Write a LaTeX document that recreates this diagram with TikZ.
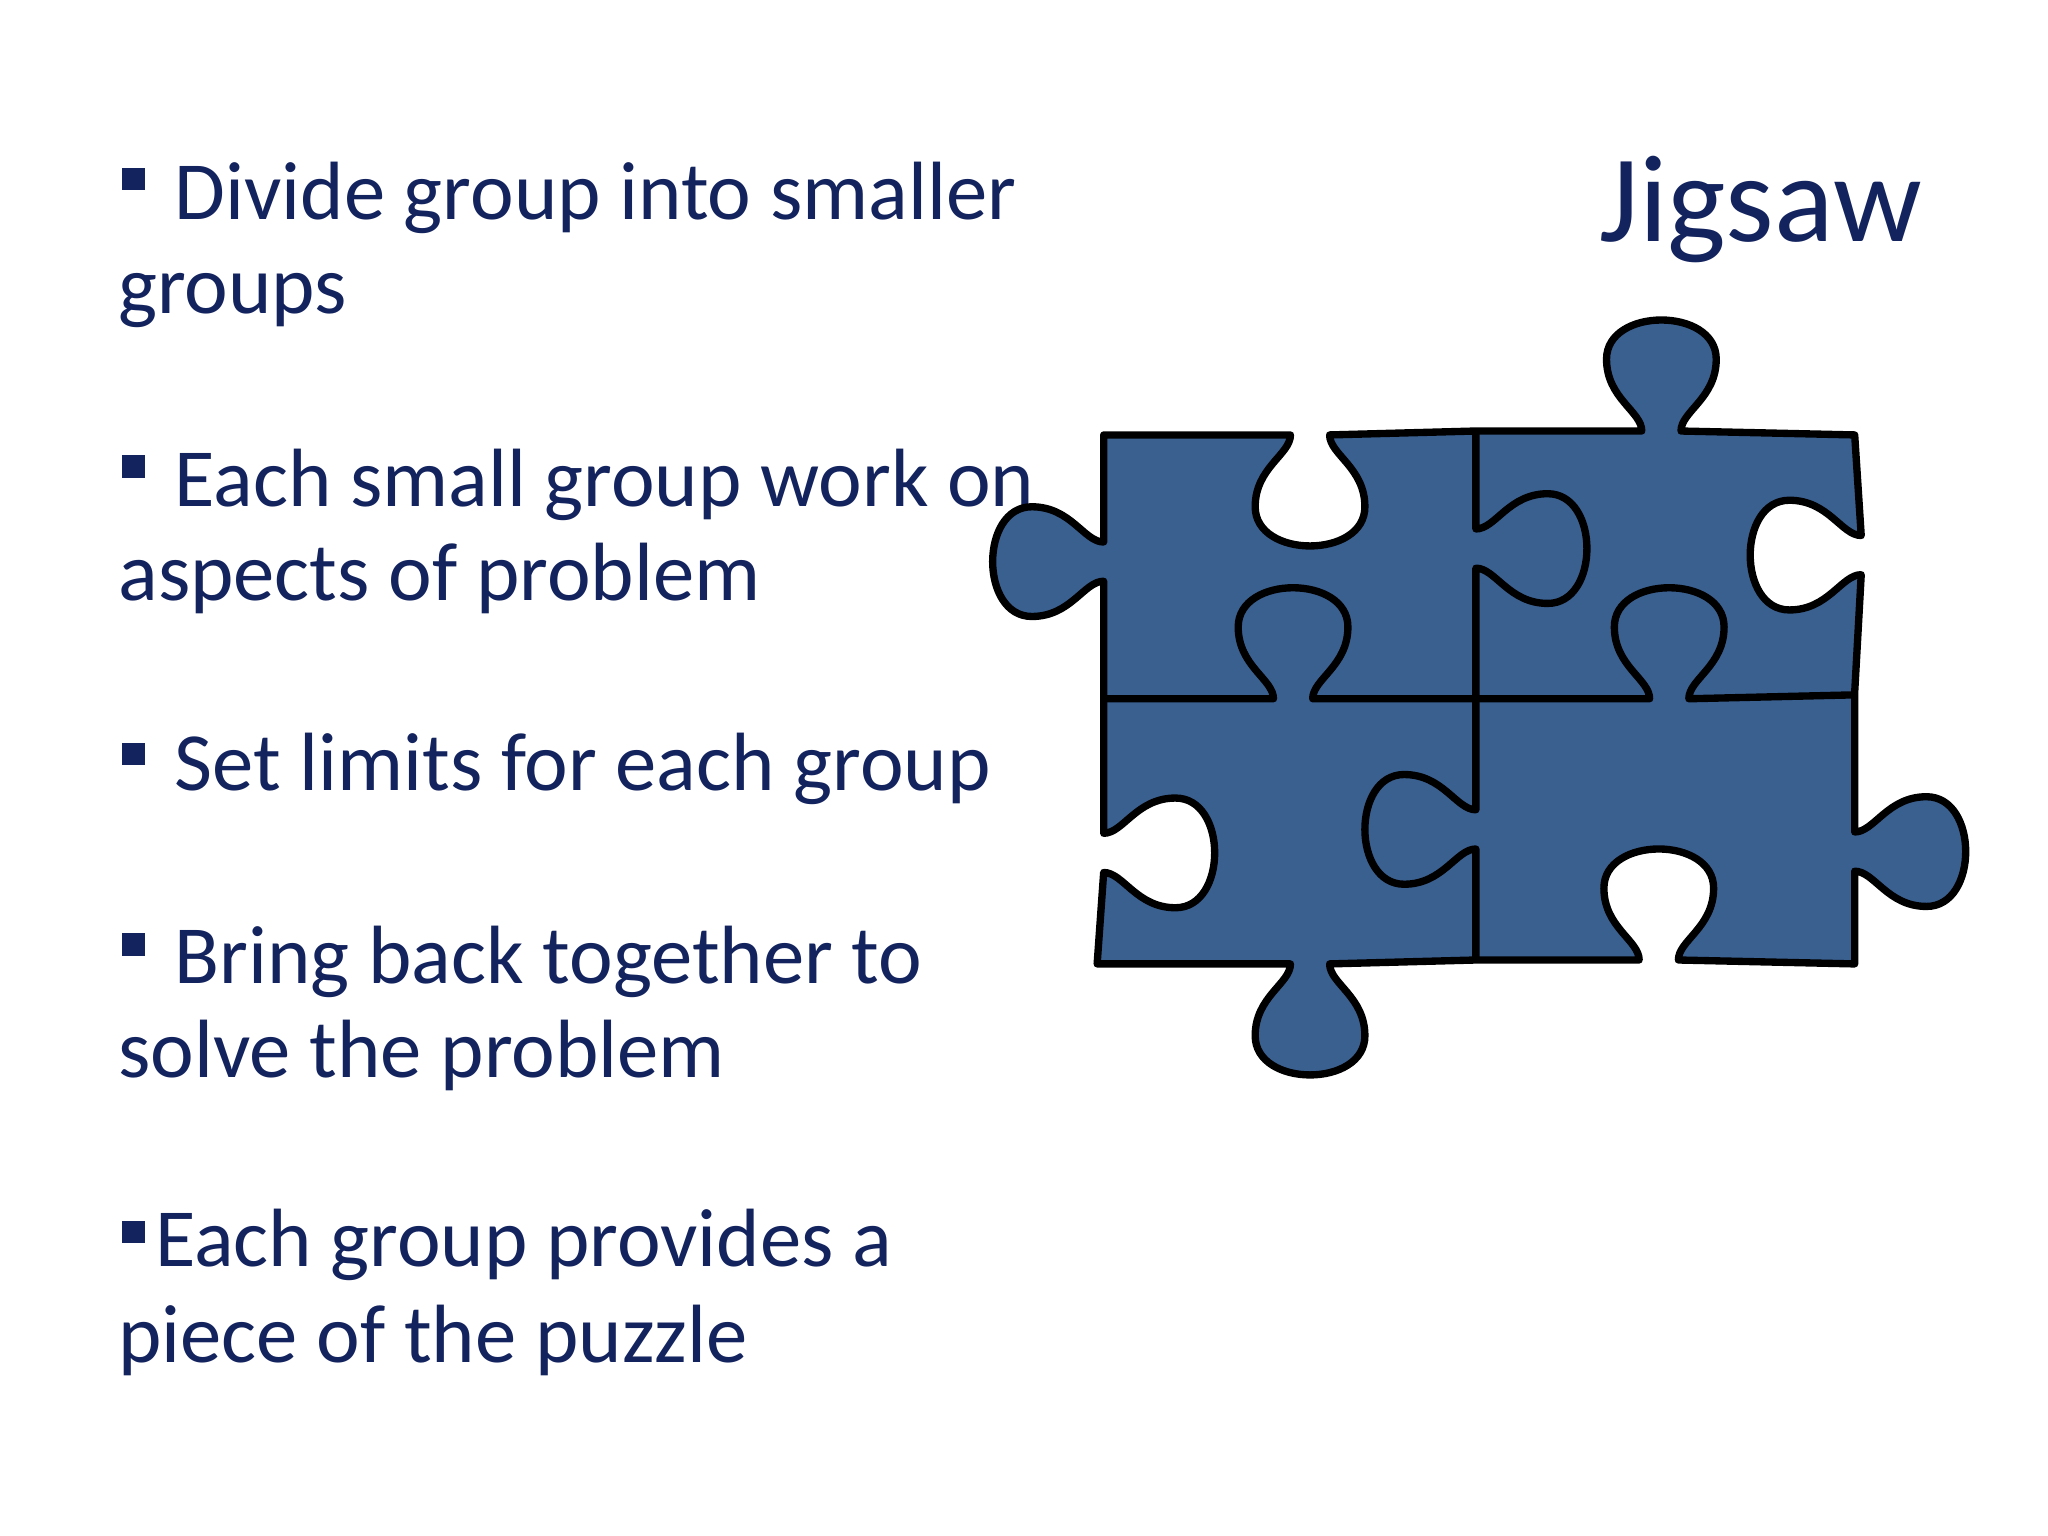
\documentclass[tikz,border=0pt]{standalone}
\usepackage{fontspec}
\setmainfont{Carlito}
\definecolor{navy}{HTML}{13235E}
\definecolor{piece}{HTML}{3A6090}
\newcommand\kh[4]{-- ({#1-#4*15},#2) .. controls ({#1-#4*15},{#2+#3*15}) and ({#1-#4*42},{#2+#3*25}) .. ({#1-#4*42},{#2+#3*55}) .. controls ({#1-#4*42},{#2+#3*95}) and ({#1+#4*42},{#2+#3*95}) .. ({#1+#4*42},{#2+#3*55}) .. controls ({#1+#4*42},{#2+#3*25}) and ({#1+#4*15},{#2+#3*15}) .. ({#1+#4*15},#2)}
\newcommand\kv[4]{-- (#1,{#2-#4*15}) .. controls ({#1+#3*15},{#2-#4*15}) and ({#1+#3*25},{#2-#4*42}) .. ({#1+#3*55},{#2-#4*42}) .. controls ({#1+#3*95},{#2-#4*42}) and ({#1+#3*95},{#2+#4*42}) .. ({#1+#3*55},{#2+#4*42}) .. controls ({#1+#3*25},{#2+#4*42}) and ({#1+#3*15},{#2+#4*15}) .. (#1,{#2+#4*15})}
\tikzset{txt/.style={anchor=base west,inner sep=0pt,text=navy,font=\fontsize{18}{21}\selectfont},
bul/.style={fill=navy,minimum size=0.17cm,inner sep=0pt,anchor=north west}}
\begin{document}
\begin{tikzpicture}[x=0.01cm,y=-0.01cm]
\useasboundingbox (0,0) rectangle (1568,1176);
\node[bul] (b1) at (93,128) {};
\node[txt] (t1) at (133,168) {Divide group into smaller};
\node[txt] (t1b) at (90,240) {groups};
\node[bul] (b2) at (93,348) {};
\node[txt] (t2) at (133,388) {Each small group work on};
\node[txt] (t2b) at (90,460) {aspects of problem};
\node[bul] (b3) at (93,568) {};
\node[txt] (t3) at (133,605) {Set limits for each group};
\node[bul] (b4) at (93,714) {};
\node[txt] (t4) at (133,753) {Bring back together to};
\node[txt] (t4b) at (90,825) {solve the problem};
\node[bul] (b5) at (93,934) {};
\node[txt] (t5) at (118,970) {Each group provides a};
\node[txt] (t5b) at (90,1043) {piece of the puzzle};
\node[anchor=base east,inner sep=0pt,text=navy,font=\fontsize{27}{30}\selectfont] (title) at (1472,185) {Jigsaw};
\draw[fill=piece,line width=1.6pt,line join=round]
 (845,333) \kh{1003}{333}{1}{1} -- (1130,330) \kh{1272}{330}{-1}{1} -- (1420,333)
 \kv{1425}{425}{-1}{1} -- (1420,530) \kv{1420}{652}{1}{1} -- (1420,738)
 \kh{1270}{735}{-1}{-1} -- (1130,735) \kh{1003}{738}{1}{-1} -- (840,738)
 \kv{845}{653}{1}{-1} -- (845,535) \kv{845}{430}{-1}{-1} -- cycle;
\draw[line width=1.6pt,line join=round]
 (1130,330) \kv{1130}{420}{1}{1} \kv{1130}{635}{-1}{1} -- (1130,735);
\draw[line width=1.6pt,line join=round]
 (845,535) \kh{990}{535}{-1}{1} \kh{1278}{535}{-1}{1} -- (1420,532);
\end{tikzpicture}
\end{document}
